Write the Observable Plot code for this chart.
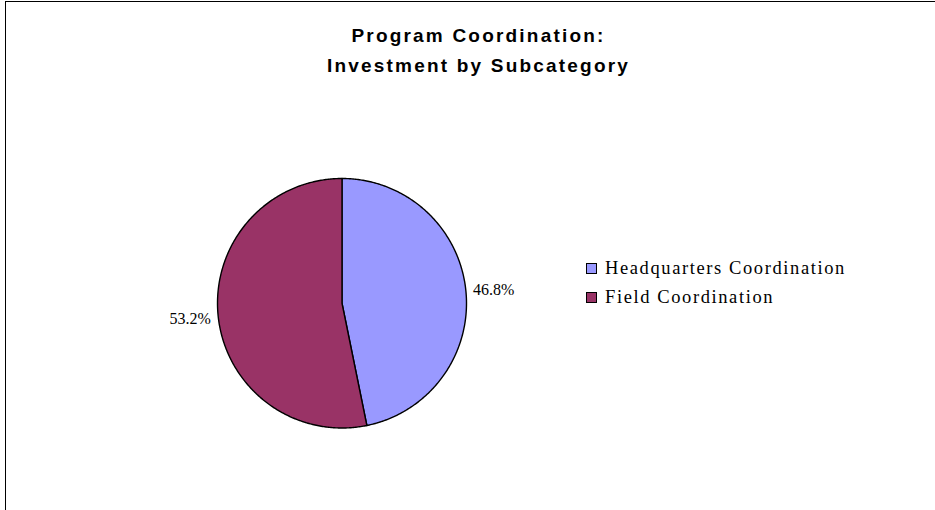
<!DOCTYPE html>
<html>
<head>
<meta charset="utf-8">
<script src="https://cdn.jsdelivr.net/npm/d3@7"></script>
<script src="https://cdn.jsdelivr.net/npm/@observablehq/plot@0.6"></script>
<style>
  html, body { margin: 0; padding: 0; background: #fff; }
  #wrap { position: relative; width: 935px; height: 510px; overflow: hidden; background: #fff; }
  #frame { position: absolute; left: 5px; top: 1px; width: 1000px; height: 1000px; border-top: 1px solid #000; border-left: 1px solid #000; }
  #title { position: absolute; left: 0; width: 957px; top: 21px; text-align: center; font-family: "Liberation Sans", Arial, sans-serif; font-weight: bold; font-size: 19px; line-height: 30px; letter-spacing: 2.2px; color: #000; }
  #chart { position: absolute; left: 0; top: 0; }
  #legend { position: absolute; left: 586px; top: 254px; font-family: "Liberation Serif", "Times New Roman", serif; font-size: 18.5px; letter-spacing: 1.6px; color: #000; }
  .item { display: flex; align-items: center; height: 29px; line-height: 29px; }
  .sw { width: 9px; height: 9px; border: 1px solid #000; margin-right: 8px; flex: none; }
</style>
</head>
<body>
<div id="wrap">
  <div id="frame"></div>
  <div id="title">Program Coordination:<br>Investment by Subcategory</div>
  <div id="chart"></div>
  <div id="legend"></div>
</div>
<script>
const categories = ["Headquarters Coordination", "Field Coordination"];
const shares = [46.8, 53.2];
const colors = ["#9999FF", "#993366"];
const labels = ["46.8%", "53.2%"];

// Build slice outlines (in unit-circle coordinates) from the data values
const total = d3.sum(shares);
let start = 0;
const polys = [];
const labelPts = [];
categories.forEach((c, i) => {
  const a0 = start / total * 2 * Math.PI;
  const a1 = (start + shares[i]) / total * 2 * Math.PI;
  start += shares[i];
  const steps = Math.max(2, Math.ceil((a1 - a0) / 0.01));
  polys.push({cat: c, x: 0, y: 0});
  for (let k = 0; k <= steps; k++) {
    const a = a0 + (a1 - a0) * k / steps;
    polys.push({cat: c, x: Math.sin(a), y: Math.cos(a)});
  }
  polys.push({cat: c, x: 0, y: 0});
  const m = (a0 + a1) / 2;
  labelPts.push({cat: c, label: labels[i], x: Math.sin(m) * 1.05, y: Math.cos(m) * 1.05, anchor: Math.sin(m) >= 0 ? "start" : "end"});
});

const plot = Plot.plot({
  width: 935,
  height: 510,
  margin: 0,
  x: {domain: [-1, 1], range: [217, 466], axis: null},
  y: {domain: [-1, 1], range: [427.5, 178], axis: null},
  color: {domain: categories, range: colors},
  style: {background: "transparent", overflow: "visible"},
  marks: [
    Plot.line(polys, {x: "x", y: "y", z: "cat", fill: "cat", stroke: "#000", strokeWidth: 1.4, curve: "linear-closed"}),
    Plot.text(labelPts.filter(d => d.anchor === "start"), {x: "x", y: "y", text: "label", textAnchor: "start", dx: 1, fontSize: 16, fontFamily: "Liberation Serif, Times New Roman, serif", fill: "#000"}),
    Plot.text(labelPts.filter(d => d.anchor === "end"), {x: "x", y: "y", text: "label", textAnchor: "end", dx: -1, dy: 2, fontSize: 16, fontFamily: "Liberation Serif, Times New Roman, serif", fill: "#000"})
  ]
});
document.getElementById("chart").appendChild(plot);

const legend = document.getElementById("legend");
categories.forEach((c, i) => {
  const it = document.createElement("div");
  it.className = "item";
  const sw = document.createElement("div");
  sw.className = "sw";
  sw.style.background = colors[i];
  it.appendChild(sw);
  const t = document.createElement("span");
  t.textContent = c;
  it.appendChild(t);
  legend.appendChild(it);
});
</script>
</body>
</html>
